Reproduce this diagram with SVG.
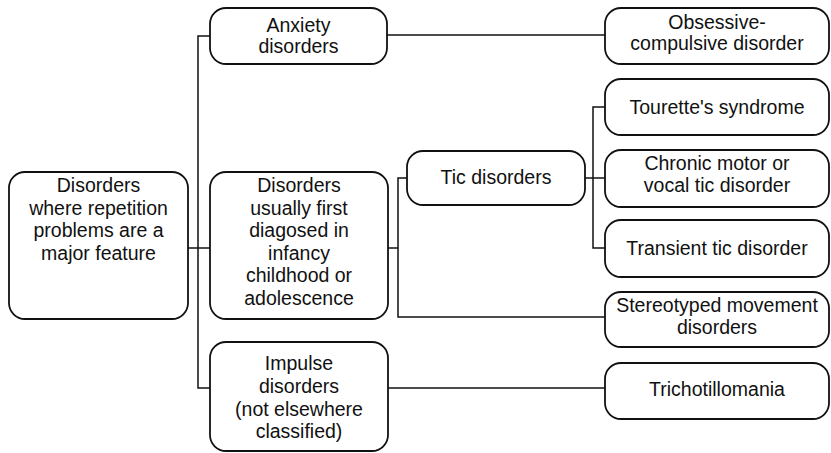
<svg xmlns="http://www.w3.org/2000/svg" width="831" height="453" viewBox="0 0 831 453">
<style>
.box{fill:#fff;stroke:#111;stroke-width:1.8}
.con{fill:none;stroke:#111;stroke-width:1.5}
text{font-family:"Liberation Sans",Arial,sans-serif;font-size:19.5px;fill:#111;text-anchor:middle}
</style>
<rect width="831" height="453" fill="#fff"/>
<g id="connectors">
<path class="con" d="M210,36 H198 V388 H210"/>
<path class="con" d="M188,248 H210"/>
<path class="con" d="M387,35 H605"/>
<path class="con" d="M407,178 H398 V317 H605"/>
<path class="con" d="M388,248 H398"/>
<path class="con" d="M585,178 H605"/>
<path class="con" d="M605,107 H593 V248 H605"/>
<path class="con" d="M388,388 H605"/>
</g>
<g id="root">
<rect class="box" x="9" y="172" width="179" height="147" rx="16"/>
<text x="98.5" y="192">Disorders</text>
<text x="98.5" y="215">where repetition</text>
<text x="98.5" y="237">problems are a</text>
<text x="98.5" y="260">major feature</text>
</g>
<g id="anxiety">
<rect class="box" x="210" y="8" width="177" height="56" rx="16"/>
<text x="298.5" y="32">Anxiety</text>
<text x="298.5" y="53">disorders</text>
</g>
<g id="childhood">
<rect class="box" x="210" y="172" width="178" height="147" rx="16"/>
<text x="299" y="192">Disorders</text>
<text x="299" y="215">usually first</text>
<text x="299" y="237">diagosed in</text>
<text x="299" y="260">infancy</text>
<text x="299" y="282">childhood or</text>
<text x="299" y="305">adolescence</text>
</g>
<g id="impulse">
<rect class="box" x="210" y="342" width="178" height="109" rx="16"/>
<text x="299" y="370">Impulse</text>
<text x="299" y="393">disorders</text>
<text x="299" y="416">(not elsewhere</text>
<text x="299" y="438">classified)</text>
</g>
<g id="tic">
<rect class="box" x="407" y="151" width="178" height="54" rx="16"/>
<text x="496" y="184">Tic disorders</text>
</g>
<g id="ocd">
<rect class="box" x="605" y="8" width="224" height="56" rx="16"/>
<text x="717" y="29">Obsessive-</text>
<text x="717" y="50">compulsive disorder</text>
</g>
<g id="tourette">
<rect class="box" x="605" y="79" width="224" height="56" rx="16"/>
<text x="717" y="114">Tourette's syndrome</text>
</g>
<g id="chronic">
<rect class="box" x="605" y="150" width="224" height="57" rx="16"/>
<text x="717" y="170">Chronic motor or</text>
<text x="717" y="192">vocal tic disorder</text>
</g>
<g id="transient">
<rect class="box" x="605" y="220" width="224" height="57" rx="16"/>
<text x="717" y="255">Transient tic disorder</text>
</g>
<g id="stereotyped">
<rect class="box" x="605" y="292" width="224" height="55" rx="16"/>
<text x="717" y="312">Stereotyped movement</text>
<text x="717" y="334">disorders</text>
</g>
<g id="trich">
<rect class="box" x="605" y="363" width="224" height="56" rx="16"/>
<text x="717" y="396">Trichotillomania</text>
</g>
</svg>
